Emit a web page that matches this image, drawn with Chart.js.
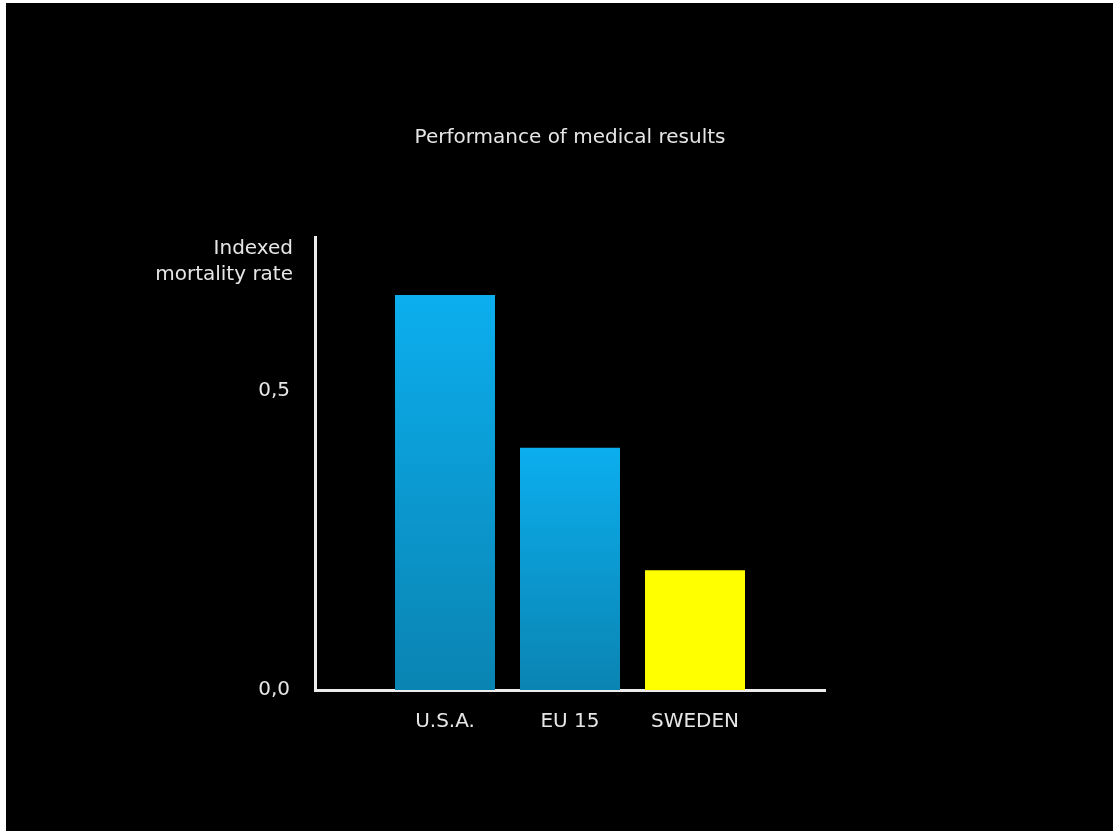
<!DOCTYPE html>
<html>
<head>
<meta charset="utf-8">
<script src="https://cdn.jsdelivr.net/npm/chart.js@4"></script>
<style>
  html, body { margin: 0; padding: 0; background: #ffffff; }
  #wrap { position: absolute; left: 6px; top: 3px; width: 1107px; height: 828px; background: #000000; }
</style>
</head>
<body>
<div id="wrap"><canvas id="chartCanvas"></canvas></div>
<script>
// chart data
const categories = ['U.S.A.', 'EU 15', 'SWEDEN'];
const positions = [0, 1, 2];
const mortality = [0.66, 0.405, 0.2];
const yTicks = [0, 0.5];
const yTitle = ['Indexed', 'mortality rate'];
const chartTitle = 'Performance of medical results';

const FONT = "'DejaVu Sans', 'Liberation Sans', sans-serif";
const TEXT = '#e6e6e6';

// blue bars get a per-bar vertical gradient, Sweden is plain yellow
function barColor(ctx) {
    if (ctx.dataIndex === 2) return '#ffff00';
    const chart = ctx.chart;
    const y = chart.scales.y;
    if (!chart.chartArea || !y) return '#0a9fd8';
    const top = y.getPixelForValue(mortality[ctx.dataIndex]);
    const bottom = y.getPixelForValue(0);
    const g = chart.ctx.createLinearGradient(0, top, 0, bottom);
    g.addColorStop(0, '#0caeee');
    g.addColorStop(1, '#0a84b2');
    return g;
}

// horizontal axis title at the top-left of the y axis
const yTitlePlugin = {
    id: 'yTitle',
    afterDraw(chart) {
        const c = chart.ctx;
        const area = chart.chartArea;
        c.save();
        c.fillStyle = TEXT;
        c.font = '20px ' + FONT;
        c.textAlign = 'right';
        c.textBaseline = 'middle';
        yTitle.forEach((line, i) => {
            c.fillText(line, area.left - 22, area.top + 12 + i * 26);
        });
        c.restore();
    }
};

const chart = new Chart(document.getElementById('chartCanvas'), {
    type: 'bar',
    data: {
        datasets: [{
            data: positions.map((x, i) => ({ x: x, y: mortality[i] })),
            backgroundColor: barColor,
            borderWidth: 0,
            categoryPercentage: 1,
            barPercentage: 0.8
        }]
    },
    options: {
        responsive: true,
        maintainAspectRatio: false,
        animation: false,
        layout: { padding: { left: 249, right: 288, top: 0, bottom: 77 } },
        plugins: {
            legend: { display: false },
            tooltip: { enabled: false },
            title: {
                display: true,
                text: chartTitle,
                fullSize: false,
                color: TEXT,
                font: { family: FONT, size: 20, weight: 'normal' },
                padding: { top: 123, bottom: 87 }
            }
        },
        scales: {
            x: {
                type: 'linear',
                offset: false,
                min: -1.04,
                max: 3.04,
                afterBuildTicks: (scale) => { scale.ticks = positions.map(v => ({ value: v })); },
                grid: { display: false, drawTicks: false },
                border: { display: true, color: '#ececec', width: 3 },
                ticks: {
                    color: TEXT,
                    padding: 20,
                    font: { family: FONT, size: 20 },
                    callback: (v) => categories[v] ?? ''
                }
            },
            y: {
                min: 0,
                max: 0.757,
                afterBuildTicks: (scale) => { scale.ticks = yTicks.map(v => ({ value: v })); },
                afterFit: (scale) => { scale.width = 60; },
                grid: { display: false, drawTicks: false },
                border: { display: true, color: '#ececec', width: 3 },
                ticks: {
                    color: TEXT,
                    padding: 25,
                    font: { family: FONT, size: 20 },
                    callback: (v) => v.toFixed(1).replace('.', ',')
                }
            }
        }
    },
    plugins: [yTitlePlugin]
});
</script>
</body>
</html>
